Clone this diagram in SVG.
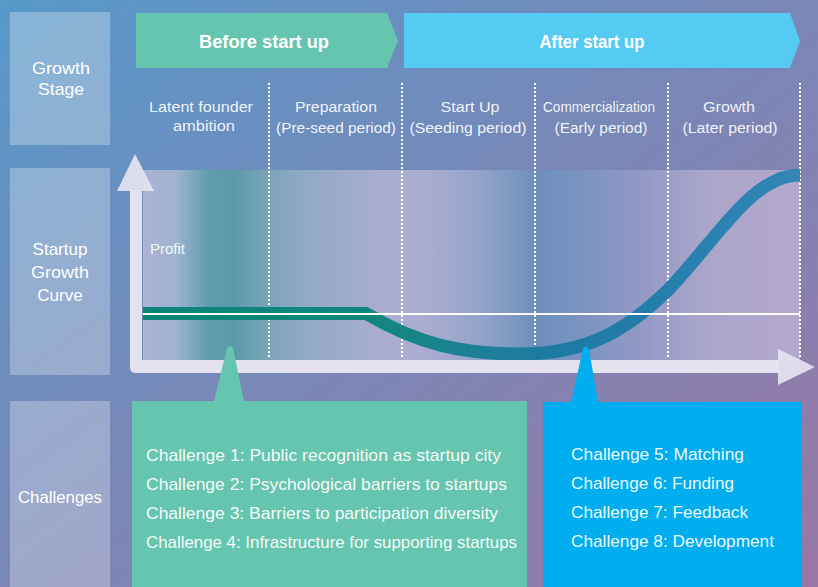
<svg xmlns="http://www.w3.org/2000/svg" width="818" height="587" viewBox="0 0 818 587">
  <defs>
    <linearGradient id="bg" x1="0" y1="0" x2="1" y2="1">
      <stop offset="0" stop-color="#5799ca"/>
      <stop offset="0.5" stop-color="#7a87b7"/>
      <stop offset="1" stop-color="#9a78a5"/>
    </linearGradient>
    <linearGradient id="band" gradientUnits="userSpaceOnUse" x1="143" y1="0" x2="800" y2="0">
      <stop offset="0" stop-color="#abb3d7"/>
      <stop offset="0.05" stop-color="#9fb3cf"/>
      <stop offset="0.10" stop-color="#5f9dae"/>
      <stop offset="0.14" stop-color="#5c9aab"/>
      <stop offset="0.19" stop-color="#7ba4b9"/>
      <stop offset="0.25" stop-color="#93aac5"/>
      <stop offset="0.37" stop-color="#abadd0"/>
      <stop offset="0.43" stop-color="#aaadd1"/>
      <stop offset="0.51" stop-color="#94a4cb"/>
      <stop offset="0.60" stop-color="#6d8fbc"/>
      <stop offset="0.64" stop-color="#7492c0"/>
      <stop offset="0.74" stop-color="#8e97c4"/>
      <stop offset="0.86" stop-color="#aca6cb"/>
      <stop offset="1" stop-color="#b3a8cc"/>
    </linearGradient>
    <linearGradient id="curve" gradientUnits="userSpaceOnUse" x1="143" y1="0" x2="800" y2="0">
      <stop offset="0" stop-color="#0c8577"/>
      <stop offset="0.35" stop-color="#12867d"/>
      <stop offset="0.5" stop-color="#1c8096"/>
      <stop offset="0.65" stop-color="#1d7aa2"/>
      <stop offset="1" stop-color="#3386b6"/>
    </linearGradient>
    <style>
      .lbl { fill: #ffffff; fill-opacity: 0.28; }
      .lt { font-family: "Liberation Sans", Arial, sans-serif; font-size: 17px; fill: #ffffff; text-anchor: middle; }
      .hd { font-family: "Liberation Sans", Arial, sans-serif; font-size: 18px; font-weight: bold; fill: #ffffff; text-anchor: middle; }
      .col { font-family: "Liberation Sans", Arial, sans-serif; font-size: 15.5px; fill: #ffffff; fill-opacity: 0.92; text-anchor: middle; }
      .ch { font-family: "Liberation Sans", Arial, sans-serif; font-size: 17px; fill: #ffffff; fill-opacity: 0.95; }
      .div { stroke: #ffffff; stroke-width: 2; stroke-dasharray: 2 2; fill: none; }
      .axis { fill: #e3e2ee; }
    </style>
  </defs>

  <!-- background -->
  <rect x="0" y="0" width="818" height="587" fill="url(#bg)"/>

  <!-- row labels -->
  <g id="label-growth-stage">
    <rect class="lbl" x="10" y="12" width="100" height="133"/>
    <text class="lt" x="61" y="74" textLength="58" lengthAdjust="spacingAndGlyphs">Growth</text>
    <text class="lt" x="61" y="95" textLength="46" lengthAdjust="spacingAndGlyphs">Stage</text>
  </g>
  <g id="label-growth-curve">
    <rect class="lbl" x="10" y="168" width="100" height="207"/>
    <text class="lt" x="60" y="255">Startup</text>
    <text class="lt" x="60" y="278" textLength="58" lengthAdjust="spacingAndGlyphs">Growth</text>
    <text class="lt" x="60" y="301">Curve</text>
  </g>
  <g id="label-challenges">
    <rect class="lbl" x="10" y="401" width="100" height="186"/>
    <text class="lt" x="60" y="503" textLength="84" lengthAdjust="spacingAndGlyphs">Challenges</text>
  </g>

  <!-- phase banners -->
  <g id="phase-before">
    <polygon points="136,13 387,13 398,41 387,68 136,68" fill="#66c5ae"/>
    <text class="hd" x="264" y="48" textLength="130" lengthAdjust="spacingAndGlyphs">Before start up</text>
  </g>
  <g id="phase-after">
    <polygon points="404,13 790,13 800,41 790,68 404,68" fill="#55caf3"/>
    <text class="hd" x="592" y="48" textLength="105" lengthAdjust="spacingAndGlyphs">After start up</text>
  </g>

  <!-- stage column headings -->
  <g id="stage-latent">
    <text class="col" x="201" y="112" textLength="104" lengthAdjust="spacingAndGlyphs">Latent founder</text>
    <text class="col" x="204" y="131" textLength="62" lengthAdjust="spacingAndGlyphs">ambition</text>
  </g>
  <g id="stage-preparation">
    <text class="col" x="336" y="112" textLength="82" lengthAdjust="spacingAndGlyphs">Preparation</text>
    <text class="col" x="336" y="133" textLength="120" lengthAdjust="spacingAndGlyphs">(Pre-seed period)</text>
  </g>
  <g id="stage-startup">
    <text class="col" x="470" y="112" textLength="59" lengthAdjust="spacingAndGlyphs">Start Up</text>
    <text class="col" x="468" y="133" textLength="117" lengthAdjust="spacingAndGlyphs">(Seeding period)</text>
  </g>
  <g id="stage-commercialization">
    <text class="col" x="599" y="112" textLength="112" lengthAdjust="spacingAndGlyphs">Commercialization</text>
    <text class="col" x="601" y="133" textLength="93" lengthAdjust="spacingAndGlyphs">(Early period)</text>
  </g>
  <g id="stage-growth">
    <text class="col" x="729" y="112" textLength="52" lengthAdjust="spacingAndGlyphs">Growth</text>
    <text class="col" x="730" y="133" textLength="95" lengthAdjust="spacingAndGlyphs">(Later period)</text>
  </g>

  <!-- chart band -->
  <g id="chart">
    <rect x="143" y="170" width="657" height="190" fill="url(#band)"/>
    <line class="div" x1="269" y1="83" x2="269" y2="359"/>
    <line class="div" x1="402" y1="83" x2="402" y2="359"/>
    <line class="div" x1="535" y1="83" x2="535" y2="359"/>
    <line class="div" x1="668" y1="83" x2="668" y2="359"/>
    <line class="div" x1="800" y1="83" x2="800" y2="359"/>
    <text x="150" y="254" font-family="Liberation Sans, Arial, sans-serif" font-size="15" fill="#ffffff" fill-opacity="0.92">Profit</text>
  </g>

  <!-- growth curve, break-even line and axes -->
  <g id="connectors">
    <path d="M143,313.5 L366,313.5 C420,345 462,354 520,354 C585,354 625,332 668,290 C718,238 752,175 800,175" fill="none" stroke="url(#curve)" stroke-width="13"/>
    <line x1="143" y1="314" x2="800" y2="314" stroke="#ffffff" stroke-width="2"/>
    <path class="axis" d="M130,190 L142,190 L142,360 L779,360 L779,373 L136,373 Q130,373 130,367 Z"/>
    <polygon class="axis" points="135,154 154,191 117,191" fill-opacity="0.95"/>
    <polygon class="axis" points="778,349 815,367 778,385" fill-opacity="0.95"/>
  </g>

  <!-- challenge callouts -->
  <g id="challenges-before">
    <path d="M132,401 L214,401 L227,348 Q230,343 233,348 L244,401 L527,401 L527,587 L132,587 Z" fill="#66c5ae"/>
    <text class="ch" x="146" y="461" textLength="355" lengthAdjust="spacingAndGlyphs">Challenge 1: Public recognition as startup city</text>
    <text class="ch" x="146" y="490" textLength="361" lengthAdjust="spacingAndGlyphs">Challenge 2: Psychological barriers to startups</text>
    <text class="ch" x="146" y="519" textLength="352" lengthAdjust="spacingAndGlyphs">Challenge 3: Barriers to participation diversity</text>
    <text class="ch" x="146" y="548" textLength="371" lengthAdjust="spacingAndGlyphs">Challenge 4: Infrastructure for supporting startups</text>
  </g>
  <g id="challenges-after">
    <path d="M543,402 L571,402 L583,349 Q586,344 589,349 L598,402 L802,402 L802,587 L543,587 Z" fill="#00aeef"/>
    <text class="ch" x="571" y="460" textLength="173" lengthAdjust="spacingAndGlyphs">Challenge 5: Matching</text>
    <text class="ch" x="571" y="489" textLength="163" lengthAdjust="spacingAndGlyphs">Challenge 6: Funding</text>
    <text class="ch" x="571" y="518" textLength="177" lengthAdjust="spacingAndGlyphs">Challenge 7: Feedback</text>
    <text class="ch" x="571" y="547" textLength="203" lengthAdjust="spacingAndGlyphs">Challenge 8: Development</text>
  </g>
</svg>
